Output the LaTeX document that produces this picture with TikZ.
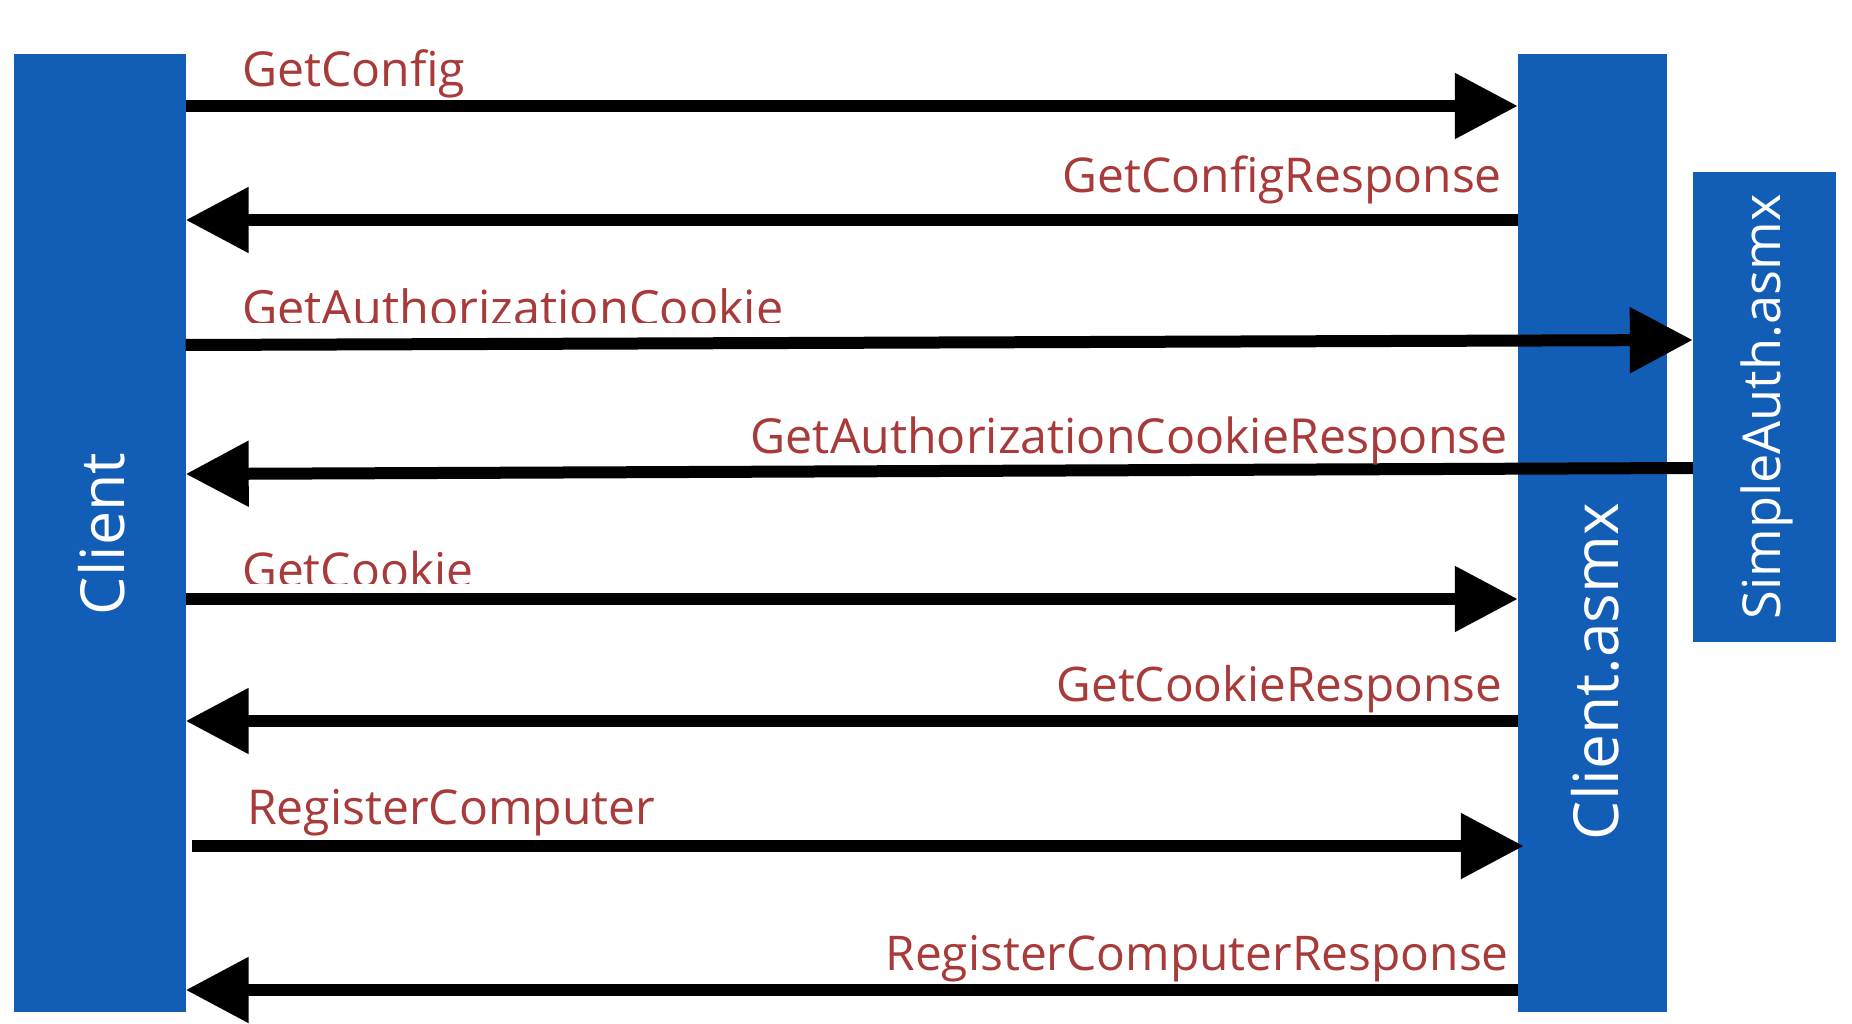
\documentclass[tikz,border=0pt]{standalone}
\usepackage{graphicx}
\usepackage{fontspec}
\setmainfont{Open Sans}
\usetikzlibrary{arrows.meta}
\definecolor{boxblue}{RGB}{18,93,182}
\definecolor{lblred}{RGB}{168,58,58}
\newcommand\fitw[2]{\resizebox{#1}{!}{#2}}
\tikzset{
  svc/.style={fill=boxblue, draw=none, inner sep=0pt},
  svctext/.style={rotate=90, text=white, inner sep=0pt},
  msg/.style={line width=12pt, draw=black},
  msgarr/.style={msg, -{Triangle[length=63pt, width=63pt]}},
  lbl/.style={text=lblred, inner sep=0pt},
}
\begin{document}
\begin{tikzpicture}[x=1pt,y=-1pt]
\useasboundingbox (0,0) rectangle (1852,1024);
% participant boxes
\node[svc, minimum width=171.5pt, minimum height=958pt] (client) at (99.75,533) {};
\node[svc, minimum width=149pt, minimum height=958pt] (asmx) at (1592.5,533) {};
\node[svc, minimum width=143pt, minimum height=470pt] (auth) at (1764.5,407) {};
\node[svctext] (clientlbl) at (101.5,534) {\fitw{162pt}{Client}};
\node[svctext] (asmxlbl) at (1595,671.5) {\fitw{337pt}{Client.asmx}};
\node[svctext] (authlbl) at (1767,407) {\fitw{425pt}{SimpleAuth.asmx}};
% messages
\draw[msgarr] (client.east |- 0,106) -- (asmx.west |- 0,106);
\node[lbl, anchor=base west] (l1) at (242,87) {\fitw{223pt}{GetConfig}};
\draw[msgarr] (asmx.west |- 0,220) -- (client.east |- 0,220);
\node[lbl, anchor=base east] (l2) at (1502,193) {\fitw{439pt}{GetConfigResponse}};
\draw[msgarr] (client.east |- 0,345) -- (auth.west |- 0,340);
\begin{scope}
\clip (0,0) rectangle (1852,322);
\node[lbl, anchor=base west] (l3) at (242,325) {\fitw{541pt}{GetAuthorizationCookie}};
\end{scope}
\draw[msgarr] (auth.west |- 0,468) -- (client.east |- 0,474);
\node[lbl, anchor=base east] (l4) at (1508,453) {\fitw{757pt}{GetAuthorizationCookieResponse}};
\draw[msgarr] (client.east |- 0,599) -- (asmx.west |- 0,599);
\begin{scope}
\clip (0,0) rectangle (1852,583);
\node[lbl, anchor=base west] (l5) at (242,587) {\fitw{231pt}{GetCookie}};
\end{scope}
\draw[msgarr] (asmx.west |- 0,721) -- (client.east |- 0,721);
\node[lbl, anchor=base east] (l6) at (1502,701) {\fitw{445pt}{GetCookieResponse}};
\coordinate (rcstart) at ([xshift=6.5pt]client.east |- 0,846);
\coordinate (rcend) at ([xshift=6pt]asmx.west |- 0,846);
\draw[msgarr] (rcstart) -- (rcend);
\node[lbl, anchor=base west] (l7) at (247,824) {\fitw{408pt}{RegisterComputer}};
\draw[msgarr] (asmx.west |- 0,990) -- (client.east |- 0,990);
\node[lbl, anchor=base east] (l8) at (1509,970) {\fitw{623pt}{RegisterComputerResponse}};
\end{tikzpicture}
\end{document}
